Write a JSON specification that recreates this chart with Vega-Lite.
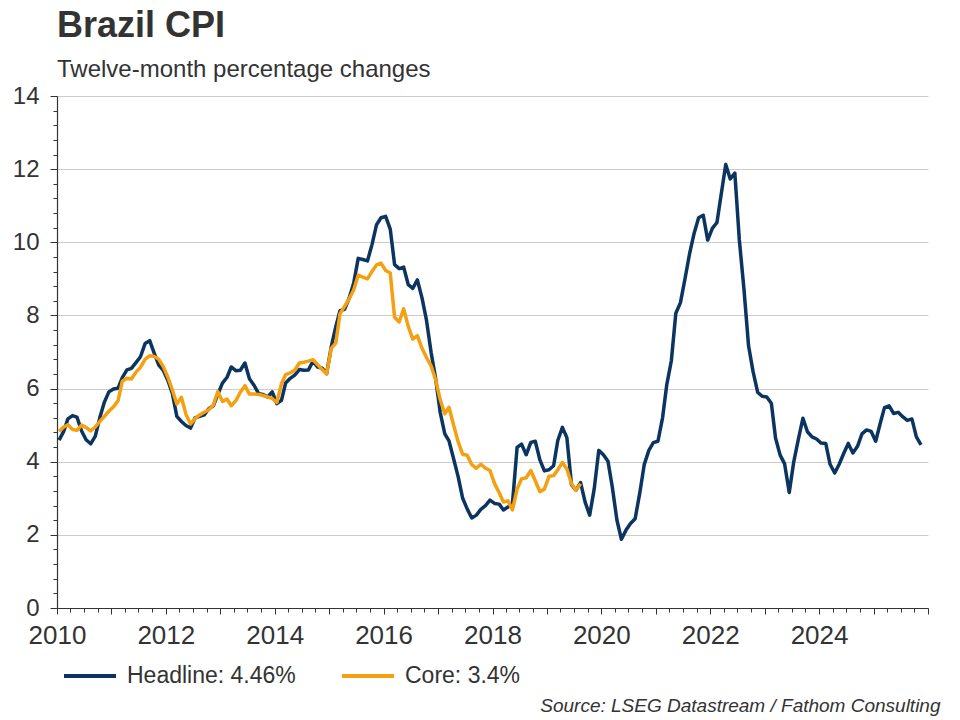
{
  "$schema": "https://vega.github.io/schema/vega-lite/v6.json",
  "width": 871,
  "height": 512,
  "autosize": {"type": "none"},
  "padding": {"left": 57, "top": 96, "right": 32, "bottom": 112},
  "background": "white",
  "title": {
    "text": "Brazil CPI",
    "subtitle": "Twelve-month percentage changes",
    "anchor": "start",
    "frame": "group",
    "font": "Liberation Sans",
    "fontSize": 36,
    "fontWeight": "bold",
    "color": "#333333",
    "subtitleFont": "Liberation Sans",
    "subtitleFontSize": 24,
    "subtitleColor": "#333333",
    "subtitlePadding": 13,
    "offset": 1
  },
  "data": {
    "values": [
      {"d": "2010-01-15", "Headline": 4.59, "Core": 4.83},
      {"d": "2010-02-15", "Headline": 4.83, "Core": 4.95},
      {"d": "2010-03-15", "Headline": 5.17, "Core": 5.01},
      {"d": "2010-04-15", "Headline": 5.26, "Core": 4.88},
      {"d": "2010-05-15", "Headline": 5.22, "Core": 4.86},
      {"d": "2010-06-15", "Headline": 4.84, "Core": 5.0},
      {"d": "2010-07-15", "Headline": 4.6, "Core": 4.94},
      {"d": "2010-08-15", "Headline": 4.49, "Core": 4.84},
      {"d": "2010-09-15", "Headline": 4.7, "Core": 4.95},
      {"d": "2010-10-15", "Headline": 5.2, "Core": 5.1},
      {"d": "2010-11-15", "Headline": 5.63, "Core": 5.24},
      {"d": "2010-12-15", "Headline": 5.91, "Core": 5.38},
      {"d": "2011-01-15", "Headline": 5.99, "Core": 5.5},
      {"d": "2011-02-15", "Headline": 6.01, "Core": 5.67},
      {"d": "2011-03-15", "Headline": 6.3, "Core": 6.2},
      {"d": "2011-04-15", "Headline": 6.51, "Core": 6.28},
      {"d": "2011-05-15", "Headline": 6.55, "Core": 6.26},
      {"d": "2011-06-15", "Headline": 6.71, "Core": 6.45},
      {"d": "2011-07-15", "Headline": 6.87, "Core": 6.58},
      {"d": "2011-08-15", "Headline": 7.23, "Core": 6.8},
      {"d": "2011-09-15", "Headline": 7.31, "Core": 6.9},
      {"d": "2011-10-15", "Headline": 6.97, "Core": 6.88},
      {"d": "2011-11-15", "Headline": 6.64, "Core": 6.8},
      {"d": "2011-12-15", "Headline": 6.5, "Core": 6.6},
      {"d": "2012-01-15", "Headline": 6.22, "Core": 6.31},
      {"d": "2012-02-15", "Headline": 5.85, "Core": 5.95},
      {"d": "2012-03-15", "Headline": 5.24, "Core": 5.58},
      {"d": "2012-04-15", "Headline": 5.1, "Core": 5.76},
      {"d": "2012-05-15", "Headline": 4.99, "Core": 5.3},
      {"d": "2012-06-15", "Headline": 4.92, "Core": 5.03},
      {"d": "2012-07-15", "Headline": 5.2, "Core": 5.18},
      {"d": "2012-08-15", "Headline": 5.24, "Core": 5.28},
      {"d": "2012-09-15", "Headline": 5.28, "Core": 5.35},
      {"d": "2012-10-15", "Headline": 5.45, "Core": 5.42},
      {"d": "2012-11-15", "Headline": 5.53, "Core": 5.55},
      {"d": "2012-12-15", "Headline": 5.84, "Core": 5.92},
      {"d": "2013-01-15", "Headline": 6.15, "Core": 5.65},
      {"d": "2013-02-15", "Headline": 6.31, "Core": 5.71},
      {"d": "2013-03-15", "Headline": 6.59, "Core": 5.53},
      {"d": "2013-04-15", "Headline": 6.49, "Core": 5.67},
      {"d": "2013-05-15", "Headline": 6.5, "Core": 5.9},
      {"d": "2013-06-15", "Headline": 6.7, "Core": 6.08},
      {"d": "2013-07-15", "Headline": 6.27, "Core": 5.85},
      {"d": "2013-08-15", "Headline": 6.09, "Core": 5.85},
      {"d": "2013-09-15", "Headline": 5.86, "Core": 5.84},
      {"d": "2013-10-15", "Headline": 5.84, "Core": 5.81},
      {"d": "2013-11-15", "Headline": 5.77, "Core": 5.77},
      {"d": "2013-12-15", "Headline": 5.91, "Core": 5.73},
      {"d": "2014-01-15", "Headline": 5.59, "Core": 5.62},
      {"d": "2014-02-15", "Headline": 5.68, "Core": 6.13},
      {"d": "2014-03-15", "Headline": 6.15, "Core": 6.38},
      {"d": "2014-04-15", "Headline": 6.28, "Core": 6.43},
      {"d": "2014-05-15", "Headline": 6.37, "Core": 6.5},
      {"d": "2014-06-15", "Headline": 6.52, "Core": 6.7},
      {"d": "2014-07-15", "Headline": 6.5, "Core": 6.72},
      {"d": "2014-08-15", "Headline": 6.51, "Core": 6.75},
      {"d": "2014-09-15", "Headline": 6.75, "Core": 6.79},
      {"d": "2014-10-15", "Headline": 6.59, "Core": 6.66},
      {"d": "2014-11-15", "Headline": 6.56, "Core": 6.52},
      {"d": "2014-12-15", "Headline": 6.41, "Core": 6.4},
      {"d": "2015-01-15", "Headline": 7.14, "Core": 7.1},
      {"d": "2015-02-15", "Headline": 7.7, "Core": 7.25},
      {"d": "2015-03-15", "Headline": 8.13, "Core": 8.05},
      {"d": "2015-04-15", "Headline": 8.17, "Core": 8.25},
      {"d": "2015-05-15", "Headline": 8.47, "Core": 8.45},
      {"d": "2015-06-15", "Headline": 8.89, "Core": 8.7},
      {"d": "2015-07-15", "Headline": 9.56, "Core": 9.1},
      {"d": "2015-08-15", "Headline": 9.53, "Core": 9.05},
      {"d": "2015-09-15", "Headline": 9.49, "Core": 9.0},
      {"d": "2015-10-15", "Headline": 9.93, "Core": 9.2},
      {"d": "2015-11-15", "Headline": 10.48, "Core": 9.38},
      {"d": "2015-12-15", "Headline": 10.67, "Core": 9.43},
      {"d": "2016-01-15", "Headline": 10.71, "Core": 9.23},
      {"d": "2016-02-15", "Headline": 10.36, "Core": 9.16},
      {"d": "2016-03-15", "Headline": 9.39, "Core": 7.95},
      {"d": "2016-04-15", "Headline": 9.28, "Core": 7.82},
      {"d": "2016-05-15", "Headline": 9.32, "Core": 8.18},
      {"d": "2016-06-15", "Headline": 8.84, "Core": 7.7},
      {"d": "2016-07-15", "Headline": 8.74, "Core": 7.35},
      {"d": "2016-08-15", "Headline": 8.97, "Core": 7.45},
      {"d": "2016-09-15", "Headline": 8.48, "Core": 7.1},
      {"d": "2016-10-15", "Headline": 7.87, "Core": 6.85},
      {"d": "2016-11-15", "Headline": 6.99, "Core": 6.62},
      {"d": "2016-12-15", "Headline": 6.29, "Core": 6.25},
      {"d": "2017-01-15", "Headline": 5.35, "Core": 5.7},
      {"d": "2017-02-15", "Headline": 4.76, "Core": 5.31},
      {"d": "2017-03-15", "Headline": 4.57, "Core": 5.49},
      {"d": "2017-04-15", "Headline": 4.08, "Core": 5.0},
      {"d": "2017-05-15", "Headline": 3.6, "Core": 4.55},
      {"d": "2017-06-15", "Headline": 3.0, "Core": 4.2},
      {"d": "2017-07-15", "Headline": 2.71, "Core": 4.18},
      {"d": "2017-08-15", "Headline": 2.46, "Core": 3.92},
      {"d": "2017-09-15", "Headline": 2.54, "Core": 3.82},
      {"d": "2017-10-15", "Headline": 2.7, "Core": 3.93},
      {"d": "2017-11-15", "Headline": 2.8, "Core": 3.82},
      {"d": "2017-12-15", "Headline": 2.95, "Core": 3.76},
      {"d": "2018-01-15", "Headline": 2.86, "Core": 3.4},
      {"d": "2018-02-15", "Headline": 2.84, "Core": 3.15},
      {"d": "2018-03-15", "Headline": 2.68, "Core": 2.9},
      {"d": "2018-04-15", "Headline": 2.76, "Core": 2.93},
      {"d": "2018-05-15", "Headline": 2.86, "Core": 2.68},
      {"d": "2018-06-15", "Headline": 4.39, "Core": 3.25},
      {"d": "2018-07-15", "Headline": 4.48, "Core": 3.53},
      {"d": "2018-08-15", "Headline": 4.19, "Core": 3.56},
      {"d": "2018-09-15", "Headline": 4.53, "Core": 3.76},
      {"d": "2018-10-15", "Headline": 4.56, "Core": 3.48},
      {"d": "2018-11-15", "Headline": 4.05, "Core": 3.18},
      {"d": "2018-12-15", "Headline": 3.75, "Core": 3.25},
      {"d": "2019-01-15", "Headline": 3.78, "Core": 3.6},
      {"d": "2019-02-15", "Headline": 3.89, "Core": 3.62},
      {"d": "2019-03-15", "Headline": 4.58, "Core": 3.78},
      {"d": "2019-04-15", "Headline": 4.94, "Core": 3.98},
      {"d": "2019-05-15", "Headline": 4.66, "Core": 3.8},
      {"d": "2019-06-15", "Headline": 3.37, "Core": 3.4},
      {"d": "2019-07-15", "Headline": 3.22, "Core": 3.22},
      {"d": "2019-08-15", "Headline": 3.43, "Core": 3.4},
      {"d": "2019-09-15", "Headline": 2.89},
      {"d": "2019-10-15", "Headline": 2.54},
      {"d": "2019-11-15", "Headline": 3.27},
      {"d": "2019-12-15", "Headline": 4.31},
      {"d": "2020-01-15", "Headline": 4.19},
      {"d": "2020-02-15", "Headline": 4.01},
      {"d": "2020-03-15", "Headline": 3.3},
      {"d": "2020-04-15", "Headline": 2.4},
      {"d": "2020-05-15", "Headline": 1.88},
      {"d": "2020-06-15", "Headline": 2.13},
      {"d": "2020-07-15", "Headline": 2.31},
      {"d": "2020-08-15", "Headline": 2.44},
      {"d": "2020-09-15", "Headline": 3.14},
      {"d": "2020-10-15", "Headline": 3.92},
      {"d": "2020-11-15", "Headline": 4.31},
      {"d": "2020-12-15", "Headline": 4.52},
      {"d": "2021-01-15", "Headline": 4.56},
      {"d": "2021-02-15", "Headline": 5.2},
      {"d": "2021-03-15", "Headline": 6.1},
      {"d": "2021-04-15", "Headline": 6.76},
      {"d": "2021-05-15", "Headline": 8.06},
      {"d": "2021-06-15", "Headline": 8.35},
      {"d": "2021-07-15", "Headline": 8.99},
      {"d": "2021-08-15", "Headline": 9.68},
      {"d": "2021-09-15", "Headline": 10.25},
      {"d": "2021-10-15", "Headline": 10.67},
      {"d": "2021-11-15", "Headline": 10.74},
      {"d": "2021-12-15", "Headline": 10.06},
      {"d": "2022-01-15", "Headline": 10.38},
      {"d": "2022-02-15", "Headline": 10.54},
      {"d": "2022-03-15", "Headline": 11.3},
      {"d": "2022-04-15", "Headline": 12.13},
      {"d": "2022-05-15", "Headline": 11.73},
      {"d": "2022-06-15", "Headline": 11.89},
      {"d": "2022-07-15", "Headline": 10.07},
      {"d": "2022-08-15", "Headline": 8.73},
      {"d": "2022-09-15", "Headline": 7.17},
      {"d": "2022-10-15", "Headline": 6.47},
      {"d": "2022-11-15", "Headline": 5.9},
      {"d": "2022-12-15", "Headline": 5.79},
      {"d": "2023-01-15", "Headline": 5.77},
      {"d": "2023-02-15", "Headline": 5.6},
      {"d": "2023-03-15", "Headline": 4.65},
      {"d": "2023-04-15", "Headline": 4.18},
      {"d": "2023-05-15", "Headline": 3.94},
      {"d": "2023-06-15", "Headline": 3.16},
      {"d": "2023-07-15", "Headline": 3.99},
      {"d": "2023-08-15", "Headline": 4.61},
      {"d": "2023-09-15", "Headline": 5.19},
      {"d": "2023-10-15", "Headline": 4.82},
      {"d": "2023-11-15", "Headline": 4.68},
      {"d": "2023-12-15", "Headline": 4.62},
      {"d": "2024-01-15", "Headline": 4.51},
      {"d": "2024-02-15", "Headline": 4.5},
      {"d": "2024-03-15", "Headline": 3.93},
      {"d": "2024-04-15", "Headline": 3.69},
      {"d": "2024-05-15", "Headline": 3.93},
      {"d": "2024-06-15", "Headline": 4.23},
      {"d": "2024-07-15", "Headline": 4.5},
      {"d": "2024-08-15", "Headline": 4.24},
      {"d": "2024-09-15", "Headline": 4.42},
      {"d": "2024-10-15", "Headline": 4.76},
      {"d": "2024-11-15", "Headline": 4.87},
      {"d": "2024-12-15", "Headline": 4.83},
      {"d": "2025-01-15", "Headline": 4.56},
      {"d": "2025-02-15", "Headline": 5.06},
      {"d": "2025-03-15", "Headline": 5.48},
      {"d": "2025-04-15", "Headline": 5.53},
      {"d": "2025-05-15", "Headline": 5.32},
      {"d": "2025-06-15", "Headline": 5.35},
      {"d": "2025-07-15", "Headline": 5.23},
      {"d": "2025-08-15", "Headline": 5.13},
      {"d": "2025-09-15", "Headline": 5.17},
      {"d": "2025-10-15", "Headline": 4.68},
      {"d": "2025-11-15", "Headline": 4.46}
    ]
  },
  "transform": [
    {"fold": ["Headline", "Core"], "as": ["series", "value"]},
    {"filter": "datum.value != null"}
  ],
  "mark": {"type": "line", "strokeWidth": 3.5, "interpolate": "linear", "strokeJoin": "round"},
  "encoding": {
    "x": {
      "field": "d",
      "type": "temporal",
      "scale": {
        "type": "utc",
        "domain": [
          {"year": 2010, "month": 1, "date": 1, "utc": true},
          {"year": 2026, "month": 1, "date": 1, "utc": true}
        ]
      },
      "axis": {
        "tickCount": {"interval": "month", "step": 3},
        "labelExpr": "utcmonth(datum.value) === 0 && utcyear(datum.value) % 2 === 0 && utcyear(datum.value) < 2026 ? '' + utcyear(datum.value) : ''",
        "labelFont": "Liberation Sans",
        "labelFontSize": 26,
        "labelColor": "#333333",
        "labelPadding": 8,
        "labelFlush": false,
        "labelOverlap": false,
        "grid": false,
        "domainColor": "#333333",
        "domainWidth": 1.2,
        "tickColor": "#333333",
        "tickSize": {"condition": {"test": "utcmonth(datum.value) === 0", "value": 6}, "value": 4},
        "title": "Source: LSEG Datastream / Fathom Consulting",
        "titleFont": "Liberation Sans",
        "titleFontStyle": "italic",
        "titleFontWeight": "normal",
        "titleFontSize": 19,
        "titleColor": "#333333",
        "titleAnchor": "end",
        "titleAlign": "right",
        "titleBaseline": "alphabetic",
        "titleX": 883,
        "titleY": 103
      }
    },
    "y": {
      "field": "value",
      "type": "quantitative",
      "scale": {"domain": [0, 14], "nice": false},
      "axis": {
        "values": [0, 0.4, 0.8, 1.2, 1.6, 2, 2.4, 2.8, 3.2, 3.6, 4, 4.4, 4.8, 5.2, 5.6, 6, 6.4, 6.8, 7.2, 7.6, 8, 8.4, 8.8, 9.2, 9.6, 10, 10.4, 10.8, 11.2, 11.6, 12, 12.4, 12.8, 13.2, 13.6, 14],
        "labelExpr": "datum.value % 2 === 0 ? '' + datum.value : ''",
        "labelFont": "Liberation Sans",
        "labelFontSize": 24,
        "labelColor": "#333333",
        "labelPadding": 11,
        "labelFlush": false,
        "labelOverlap": false,
        "grid": true,
        "gridColor": "#cccccc",
        "gridWidth": 1,
        "gridOpacity": {"condition": {"test": "datum.value % 2 === 0 && datum.value > 0", "value": 1}, "value": 0},
        "tickSize": {"condition": {"test": "datum.value % 2 === 0", "value": 7}, "value": 4},
        "tickColor": "#333333",
        "domainColor": "#333333",
        "domainWidth": 1.2,
        "title": null
      }
    },
    "color": {
      "field": "series",
      "type": "nominal",
      "scale": {"domain": ["Headline", "Core"], "range": ["#0b3560", "#f5a011"]},
      "legend": {
        "title": null,
        "orient": "none",
        "legendX": 5,
        "legendY": 552,
        "direction": "horizontal",
        "symbolType": "stroke",
        "symbolSize": 2704,
        "symbolStrokeWidth": 4,
        "labelFont": "Liberation Sans",
        "labelFontSize": 23,
        "labelColor": "#333333",
        "labelOffset": 9,
        "labelLimit": 400,
        "columnPadding": 38,
        "padding": 0,
        "labelExpr": "datum.label === 'Headline' ? 'Headline: 4.46%' : 'Core: 3.4%'"
      }
    }
  },
  "config": {"view": {"stroke": null}, "font": "Liberation Sans"}
}
